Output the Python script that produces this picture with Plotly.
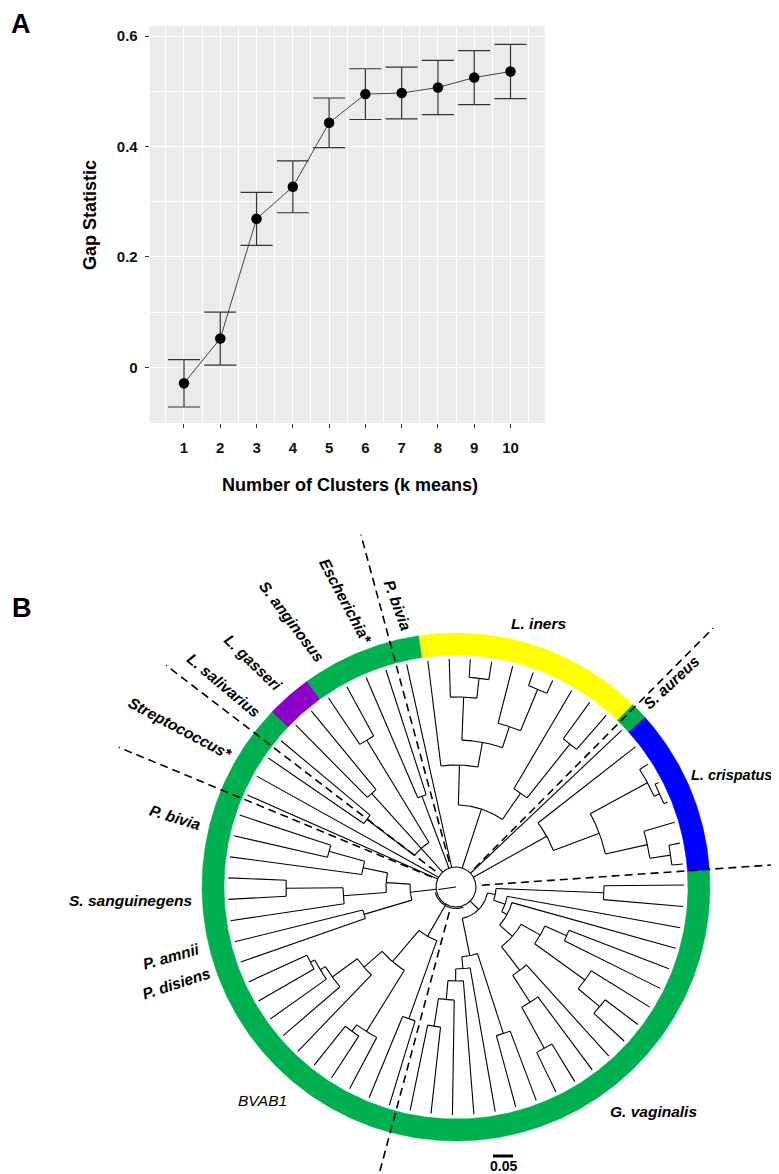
import math
import plotly.graph_objects as go

# ------------------------------------------------------------------
# Panel A data : gap statistic vs number of clusters
# ------------------------------------------------------------------
k_values = [1, 2, 3, 4, 5, 6, 7, 8, 9, 10]
gap_values = [-0.029, 0.052, 0.269, 0.327, 0.443, 0.495, 0.497, 0.507, 0.525, 0.536]
gap_se = [0.043, 0.048, 0.048, 0.047, 0.045, 0.046, 0.047, 0.049, 0.049, 0.049]
y_tick_values = [0, 0.2, 0.4, 0.6]
y_tick_labels = ["0", "0.2", "0.4", "0.6"]

# ------------------------------------------------------------------
# Panel B data : circular dendrogram
# ------------------------------------------------------------------
# angle (degrees, counter-clockwise from 3 o'clock) of leaves 1..67
leaf_angles = [5.8, 11.1, 16.5, 21.9, 27.3, 32.6, 38.0, 43.4, 48.8, 54.1,
               59.5, 64.9, 70.2, 75.6, 81.0, 86.4, 91.7, 97.1, 102.5, 107.9,
               113.2, 118.6, 124.0, 129.4, 134.7, 140.1, 145.5, 150.9, 156.2, 161.6,
               167.0, 172.4, 177.7, 183.1, 188.5, 193.9, 199.2, 204.6, 210.0, 215.4,
               220.7, 226.1, 231.5, 236.9, 242.2, 247.6, 253.0, 258.4, 263.7, 269.1,
               274.5, 279.9, 285.2, 290.6, 296.0, 301.4, 306.7, 312.1, 317.5, 322.9,
               328.2, 333.6, 339.0, 344.4, 349.7, 355.1, 360.5]
leaf_depth = 0.57
root_depth = 0.05
# internal nodes: (name, depth from centre, children)  children = leaf number or node name
tree_nodes = [
    ("E", 0.5425, [1, 2]), ("D", 0.49, ["E", 3]), ("C2", 0.56, [4, 5]),
    ("C", 0.545, ["C2", 6]), ("B", 0.3825, ["D", "C"]), ("A", 0.26, ["B", 7]),
    ("Y910", 0.4575, [9, 10]), ("Y115", 0.285, ["Y910", 11]),
    ("Y1213", 0.535, [12, 13]), ("Y169", 0.4225, ["Y1213", 14]),
    ("Y1516", 0.525, [15, 16]), ("Y190", 0.475, ["Y1516", 17]),
    ("Y147", 0.3675, ["Y169", "Y190"]), ("Y122", 0.305, ["Y147", 18]),
    ("Y81", 0.205, ["Y115", "Y122"]),
    ("P2021", 0.2425, [20, 21]), ("P2223", 0.43, [22, 23]), ("P2425", 0.315, [24, 25]),
    ("P2627", 0.28, [26, 27]), ("N52", 0.13, ["P2223", "P2425", "P2627"]),
    ("P3031", 0.33, [30, 31]), ("N95", 0.2375, ["P3031", 32]),
    ("P3334", 0.425, [33, 34]), ("N113", 0.2825, ["P3334", 35]),
    ("N70", 0.175, ["N95", "N113"]), ("P3637", 0.24, [36, 37]),
    ("N46", 0.115, ["N70", "P3637"]),
    ("S1a", 0.41, [38, 39]), ("S1b", 0.3975, ["S1a", 40]), ("S1c", 0.3825, ["S1b", 41]),
    ("N122", 0.305, ["S1c", 42]), ("P4344", 0.445, [43, 44]), ("N168", 0.425, ["P4344", 45]),
    ("N98", 0.245, ["N122", "N168"]), ("N140", 0.35, [46, 47]),
    ("N57", 0.1425, ["N98", "N140"]),
    ("P4849", 0.3525, [48, 49]), ("C113", 0.2825, ["P4849", 50]), ("C94", 0.235, ["C113", 51]),
    ("C82", 0.205, ["C94", 52]), ("P5354", 0.385, [53, 54]), ("C70", 0.175, ["C82", "P5354"]),
    ("P5556", 0.46, [55, 56]), ("N137", 0.3425, ["P5556", 57]), ("N105", 0.2625, ["N137", 58]),
    ("P5960", 0.4675, [59, 60]), ("N159", 0.3975, ["P5960", 61]), ("P6263", 0.3025, [62, 63]),
    ("N97", 0.2425, ["N159", "P6263"]), ("N75", 0.1875, ["N105", "N97"]),
    ("N58", 0.145, ["N75", 64]), ("N52g", 0.13, ["N58", 65]), ("P6667", 0.37, [66, 67]),
    ("N40", 0.10, ["N52g", "P6667"]), ("GV", 0.08, ["C70", "N40"]),
]
root_children = ["A", 8, "Y81", 19, "P2021", "N52", 28, 29, "N46", "N57", "GV"]

# coloured ring (cluster membership)
ring_start = [3.8, 42.0, 46.0, 98.5, 126.0, 136.5]
ring_end = [42.0, 46.0, 98.5, 126.0, 136.5, 363.8]
ring_color = ["#0000FF", "#00B050", "#FFFF00", "#00B050", "#8C00C8", "#00B050"]

# dashed cluster dividers (angles, degrees)
divider_angles = [4.0, 45.2, 105.1, 142.6, 157.5, 255.0]

clade_labels = ["L. iners", "S. aureus", "L. crispatus", "G. vaginalis", "BVAB1",
                "P. disiens", "P. amnii", "S. sanguinegens", "P. bivia", "Streptococcus*",
                "L. salivarius", "L. gasseri", "S. anginosus", "Escherichia*", "P. bivia"]
scale_bar_value = 0.05
scale_bar_text = "0.05"

# ------------------------------------------------------------------
# layout constants (pixels)
# ------------------------------------------------------------------
W, H = 779, 1174
FONT = "Liberation Sans, Arial, sans-serif"
PX_PER_UNIT = 400.0
CX, CY = 448.0, 879.0            # centre of the tree in page pixels
R_RING_OUT, R_RING_IN = 254.0, 232.0
DIV_R0, DIV_R1 = 26.0, 365.0
B_TOP = 500.0                    # top pixel of panel-B plotting region

label_pos = [(531, 615), (663, 674), (766, 767), (645, 1103), (254, 1092),
             (168, 975), (163, 948), (122.5, 892), (167.5, 809), (172.5, 720),
             (216, 677), (245, 654), (284, 613), (338, 593), (390, 597)]
label_xanchor = ["center", "center", "right", "center", "center", "center", "center",
                 "center", "center", "center", "center", "center", "center", "center", "center"]
label_rot = [0, -43, 0, 0, 0, -18, -16, 0, 17, 28, 40, 44, 53, 62, 70]
label_bold = [True, True, True, True, False, True, True, True, True, True,
              True, True, True, True, True]
label_size = [15.5, 15.5, 14.5, 15.5, 15.5, 15.5, 15.5, 15.5, 15.5, 15.5,
              15.5, 15.5, 15.5, 15.5, 15.5]


def pol(r, deg):
    a = math.radians(deg)
    return r * math.cos(a), r * math.sin(a)


fig = go.Figure()

# ---------------- Panel A ----------------
fig.add_trace(go.Scatter(
    x=k_values, y=gap_values, mode="lines+markers",
    line=dict(color="#333333", width=0.9),
    marker=dict(color="black", size=10.5),
    error_y=dict(type="data", array=gap_se, visible=True, color="#333333",
                 thickness=1.2, width=16),
    xaxis="x", yaxis="y", showlegend=False, hoverinfo="skip"))

# ---------------- Panel B ----------------
# ring
for s, e, c in zip(ring_start, ring_end, ring_color):
    n = max(4, int((e - s) / 0.5))
    xs, ys = [], []
    for i in range(n + 1):
        x, y = pol(R_RING_OUT, s + (e - s) * i / n)
        xs.append(x); ys.append(y)
    for i in range(n, -1, -1):
        x, y = pol(R_RING_IN, s + (e - s) * i / n)
        xs.append(x); ys.append(y)
    xs.append(xs[0]); ys.append(ys[0])
    fig.add_trace(go.Scatter(x=xs, y=ys, mode="lines", fill="toself", fillcolor=c,
                             line=dict(color=c, width=0.5), xaxis="x2", yaxis="y2",
                             showlegend=False, hoverinfo="skip"))

# tree
node_map = {name: (d, ch) for name, d, ch in tree_nodes}
ang_cache = {}


def child_angle(c):
    if isinstance(c, int):
        return leaf_angles[c - 1]
    if c not in ang_cache:
        angs = [child_angle(k) for k in node_map[c][1]]
        ang_cache[c] = (min(angs) + max(angs)) / 2
    return ang_cache[c]


def child_radius(c):
    if isinstance(c, int):
        return leaf_depth * PX_PER_UNIT
    return node_map[c][0] * PX_PER_UNIT


tx, ty = [], []


def add_arc(r, a0, a1):
    n = max(2, int(abs(a1 - a0) / 0.5) + 1)
    for i in range(n + 1):
        x, y = pol(r, a0 + (a1 - a0) * i / n)
        tx.append(x); ty.append(y)
    tx.append(None); ty.append(None)


def add_radial(r0, r1, a):
    x0, y0 = pol(r0, a)
    x1, y1 = pol(r1, a)
    tx.extend([x0, x1, None]); ty.extend([y0, y1, None])


for name, d, ch in tree_nodes:
    r = d * PX_PER_UNIT
    angs = [child_angle(c) for c in ch]
    add_arc(r, min(angs), max(angs))
    for c in ch:
        add_radial(r, child_radius(c), child_angle(c))

r_root = root_depth * PX_PER_UNIT
add_arc(r_root, 0, 360)
add_arc(r_root + 1.5, 195, 290)
for c in root_children:
    add_radial(r_root, child_radius(c), child_angle(c))
add_radial(0, r_root - 2, 188)

fig.add_trace(go.Scatter(x=tx, y=ty, mode="lines", line=dict(color="black", width=1.1),
                         xaxis="x2", yaxis="y2", showlegend=False, hoverinfo="skip",
                         connectgaps=False))

# dashed dividers
for a in divider_angles:
    x0, y0 = pol(DIV_R0, a)
    x1, y1 = pol(DIV_R1, a)
    fig.add_trace(go.Scatter(x=[x0, x1], y=[y0, y1], mode="lines",
                             line=dict(color="black", width=1.6, dash="8px,5px"),
                             xaxis="x2", yaxis="y2", showlegend=False, hoverinfo="skip"))

# scale bar
sb_x0 = 485 - CX
sb_y = CY - 1148
fig.add_trace(go.Scatter(x=[sb_x0, sb_x0 + scale_bar_value * PX_PER_UNIT], y=[sb_y, sb_y],
                         mode="lines", line=dict(color="black", width=3),
                         xaxis="x2", yaxis="y2", showlegend=False, hoverinfo="skip"))

annotations = []
for txt, (px, py), xa, rot, bold, sz in zip(clade_labels, label_pos, label_xanchor,
                                            label_rot, label_bold, label_size):
    annotations.append(dict(
        x=px - CX, y=CY - py, xref="x2", yref="y2", text=txt, showarrow=False,
        textangle=rot, xanchor=xa, yanchor="middle",
        font=dict(family=FONT, size=sz, color="black",
                  weight="bold" if bold else "normal", style="italic")))
annotations.append(dict(x=495 - CX, y=CY - 1158, xref="x2", yref="y2", text=scale_bar_text,
                        showarrow=False, xanchor="center", yanchor="middle",
                        font=dict(family=FONT, size=14, color="black", weight="bold")))

# panel letters and axis titles
annotations.append(dict(x=12.5 / W, y=1 - 16 / H, xref="paper", yref="paper", text="A",
                        showarrow=False, xanchor="center", yanchor="middle",
                        font=dict(family=FONT, size=27, color="black", weight="bold")))
annotations.append(dict(x=14 / W, y=1 - 600 / H, xref="paper", yref="paper", text="B",
                        showarrow=False, xanchor="center", yanchor="middle",
                        font=dict(family=FONT, size=27, color="black", weight="bold")))
annotations.append(dict(x=82 / W, y=1 - 207 / H, xref="paper", yref="paper",
                        text="Gap Statistic", textangle=-90, showarrow=False,
                        xanchor="center", yanchor="middle",
                        font=dict(family=FONT, size=18, color="black", weight="bold")))
annotations.append(dict(x=342 / W, y=1 - 477 / H, xref="paper", yref="paper",
                        text="Number of Clusters (k means)", showarrow=False,
                        xanchor="center", yanchor="middle",
                        font=dict(family=FONT, size=18, color="black", weight="bold")))

fig.update_layout(
    width=W, height=H, margin=dict(l=0, r=0, t=0, b=0),
    paper_bgcolor="white", plot_bgcolor="white", showlegend=False,
    font=dict(family=FONT, color="black"),
    xaxis=dict(domain=[141.7 / W, 536.8 / W], range=[0.055, 10.945], anchor="y",
               tickvals=k_values, ticks="outside", ticklen=4, tickwidth=1, tickcolor="#333333",
               showline=False, zeroline=False, showgrid=True, gridcolor="white", gridwidth=1.3,
               minor=dict(tick0=0.5, dtick=1, showgrid=True, gridcolor="white", gridwidth=0.6),
               tickfont=dict(family=FONT, size=15, color="#111111", weight="bold"),
               ticklabelstandoff=7, fixedrange=True),
    yaxis=dict(domain=[1 - 415 / H, 1 - 17.7 / H], range=[-0.101, 0.619], anchor="x",
               tickvals=y_tick_values, ticktext=y_tick_labels, ticks="outside", ticklen=4,
               tickwidth=1, tickcolor="#333333", showline=False, zeroline=False,
               showgrid=True, gridcolor="white", gridwidth=1.3,
               minor=dict(tick0=-0.1, dtick=0.2, showgrid=True, gridcolor="white", gridwidth=0.6),
               tickfont=dict(family=FONT, size=15, color="#111111", weight="bold"),
               ticklabelstandoff=4, fixedrange=True),
    xaxis2=dict(domain=[0, 1], range=[-CX, W - CX], visible=False, anchor="y2", fixedrange=True),
    yaxis2=dict(domain=[0, (H - B_TOP) / H], range=[CY - H, CY - B_TOP], visible=False,
                anchor="x2", fixedrange=True),
    shapes=[dict(type="rect", xref="x domain", yref="y domain", x0=0, x1=1, y0=0, y1=1,
                 fillcolor="#EBEBEB", line=dict(width=0), layer="below")],
    annotations=annotations,
)

fig.write_html("out.html")
